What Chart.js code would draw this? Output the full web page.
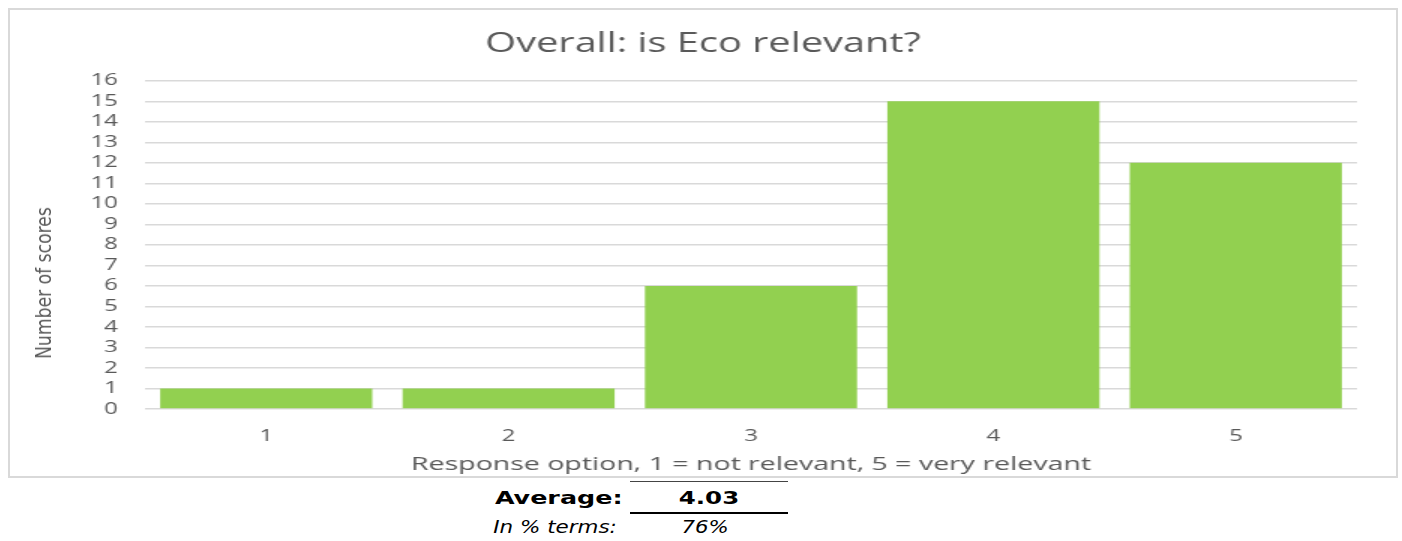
<!DOCTYPE html>
<html>
<head>
<meta charset="utf-8">
<script src="https://cdn.jsdelivr.net/npm/chart.js@4"></script>
<style>
  html, body { margin:0; padding:0; background:#fff; }
  body { width:1402px; height:541px; position:relative; overflow:hidden; }
  #box { position:absolute; left:8px; top:8px; width:1386px; height:466px; border:2px solid #d9d9d9; overflow:hidden; }
  #wrap { position:absolute; left:0; top:0; width:924px; height:466px; transform:scaleX(1.5); transform-origin:0 0; }
  #wrap canvas { display:block; }
  #ytitle { position:absolute; left:44px; top:283px; transform:translate(-50%,-50%) rotate(-90deg) scaleX(0.91);
            font-family:"Liberation Sans Narrow","DejaVu Sans Condensed",sans-serif; font-size:21px; color:#595959; white-space:nowrap; }
  .t { position:absolute; font-family:"DejaVu Sans", sans-serif; font-size:18px; color:#000; white-space:nowrap; line-height:20px; }
  .line { position:absolute; background:#000; }
</style>
</head>
<body>
<div id="box"><div id="wrap"><canvas id="c" width="924" height="466"></canvas></div></div>
<div id="ytitle"></div>
<div class="line" style="left:630px;top:481px;width:158px;height:1px;background:#444"></div>
<div class="t" id="avgLabel" style="right:779px;top:488px;font-weight:bold;transform:scaleX(1.41);transform-origin:100% 50%;"></div>
<div class="t" id="avgValue" style="left:630px;width:158px;text-align:center;top:488px;font-weight:bold;transform:scaleX(1.36);transform-origin:50% 50%;"></div>
<div class="line" style="left:630px;top:512px;width:158px;height:2px;"></div>
<div class="t" id="pctLabel" style="right:785px;top:517px;font-style:italic;transform:scaleX(1.19);transform-origin:100% 50%;"></div>
<div class="t" id="pctValue" style="left:626px;width:158px;text-align:center;top:517px;font-style:italic;transform:scaleX(1.18);transform-origin:50% 50%;"></div>
<script>
const categories = ["1", "2", "3", "4", "5"];
const scores = [1, 1, 6, 15, 12];
const chartTitle = "Overall: is Eco relevant?";
const xTitle = "Response option, 1 = not relevant, 5 = very relevant";
const yTitle = "Number of scores";
const summaryLabels = ["Average:", "In % terms:"];
const summaryValues = ["4.03", "76%"];

document.getElementById("ytitle").textContent = yTitle;
document.getElementById("avgLabel").textContent = summaryLabels[0];
document.getElementById("avgValue").textContent = summaryValues[0];
document.getElementById("pctLabel").textContent = summaryLabels[1];
document.getElementById("pctValue").textContent = summaryValues[1];

const grey = "#595959";
new Chart(document.getElementById("c"), {
  type: "bar",
  data: {
    labels: categories,
    datasets: [{ data: scores, backgroundColor: "#92d050", barPercentage: 0.875, categoryPercentage: 1.0 }]
  },
  options: {
    responsive: false,
    animation: false,
    devicePixelRatio: 1,
    layout: { padding: { left: 26, right: 26, top: 0, bottom: 0 } },
    plugins: {
      legend: { display: false },
      tooltip: { enabled: false },
      title: {
        display: true, text: chartTitle, color: grey,
        font: { family: "Open Sans", size: 26.5, weight: "normal" },
        padding: { top: 19, bottom: 20 }
      }
    },
    scales: {
      x: {
        grid: { display: false, drawTicks: false },
        border: { display: false },
        ticks: { color: grey, font: { family: "Open Sans", size: 16 }, padding: 18 },
        title: { display: true, text: xTitle, color: grey, font: { family: "Open Sans", size: 19 }, padding: { top: 1, bottom: 0 } },
        afterFit: s => { s.height = 67; }
      },
      y: {
        min: 0, max: 16,
        grid: { color: "#d9d9d9", lineWidth: 1.5, drawTicks: false },
        border: { display: false },
        ticks: { stepSize: 1, color: grey, font: { family: "Open Sans", size: 16 }, padding: 18, autoSkip: false },
        afterFit: s => { s.width = 64; }
      }
    }
  }
});
</script>
</body>
</html>
